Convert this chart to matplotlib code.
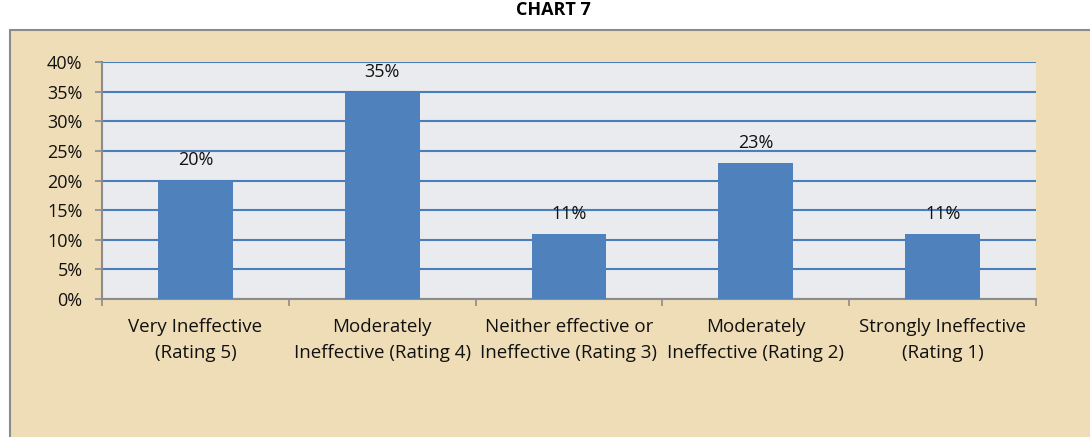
import matplotlib
matplotlib.use("Agg")
from matplotlib import pyplot as plt
from matplotlib.patches import Rectangle
from matplotlib.ticker import PercentFormatter

# chart data
categories = [
    "Very Ineffective\n(Rating 5)",
    "Moderately\nIneffective (Rating 4)",
    "Neither effective or\nIneffective (Rating 3)",
    "Moderately\nIneffective (Rating 2)",
    "Strongly Ineffective\n(Rating 1)",
]
values = [20, 35, 11, 23, 11]
y_ticks = [0, 5, 10, 15, 20, 25, 30, 35, 40]

plt.rcParams['font.family'] = ['Open Sans', 'DejaVu Sans']

fig = plt.figure(figsize=(10.9, 4.37), dpi=100)
fig.patch.set_facecolor('white')

# tan chart box behind the plot
box = Rectangle((10 / 1090, -0.05), 1.1, (437 - 30) / 437 + 0.05,
                transform=fig.transFigure, facecolor='#EEDDB6',
                edgecolor='#8C8C8C', linewidth=1.5, zorder=-5)
fig.patches.append(box)

fig.text(553 / 1090, 1 - 10 / 437, "CHART 7", ha='center', va='center',
         fontsize=13, fontweight='bold')

ax = fig.add_axes([102 / 1090, 138 / 437, 934 / 1090, 237 / 437])
ax.set_zorder(2)
ax.set_facecolor('#E9EBEE')

x = range(len(categories))
bars = ax.bar(x, values, width=0.4, color='#4F81BD', zorder=3)
for b, v in zip(bars, values):
    ax.annotate(f"{v}%", (b.get_x() + b.get_width() / 2, v),
                xytext=(0, 8), textcoords='offset points',
                ha='center', va='bottom', fontsize=13, color='#111111')

ax.set_xlim(-0.5, len(categories) - 0.5)
ax.set_ylim(0, 40)
ax.set_yticks(y_ticks)
ax.yaxis.set_major_formatter(PercentFormatter(decimals=0))
ax.grid(axis='y', color='#4A7EBB', linewidth=1.5, zorder=1)
ax.set_axisbelow(True)

ax.set_xticks([i - 0.5 for i in range(len(categories) + 1)], minor=False)
ax.set_xticklabels([])
ax.set_xticks(list(x), minor=True)
ax.set_xticklabels(categories, minor=True, fontsize=13.5, linespacing=1.55,
                   color='#111111')
ax.tick_params(axis='x', which='minor', length=0, pad=14)
ax.tick_params(axis='x', which='major', length=5, color='#8C8C8C', width=1.2)
ax.tick_params(axis='y', length=5, color='#8C8C8C', width=1.2, labelsize=13,
               pad=9, labelcolor='#111111')

for s in ['top', 'right']:
    ax.spines[s].set_visible(False)
for s in ['left', 'bottom']:
    ax.spines[s].set_color('#8C8C8C')
    ax.spines[s].set_linewidth(1.5)

fig.savefig("out.png", dpi=100)
